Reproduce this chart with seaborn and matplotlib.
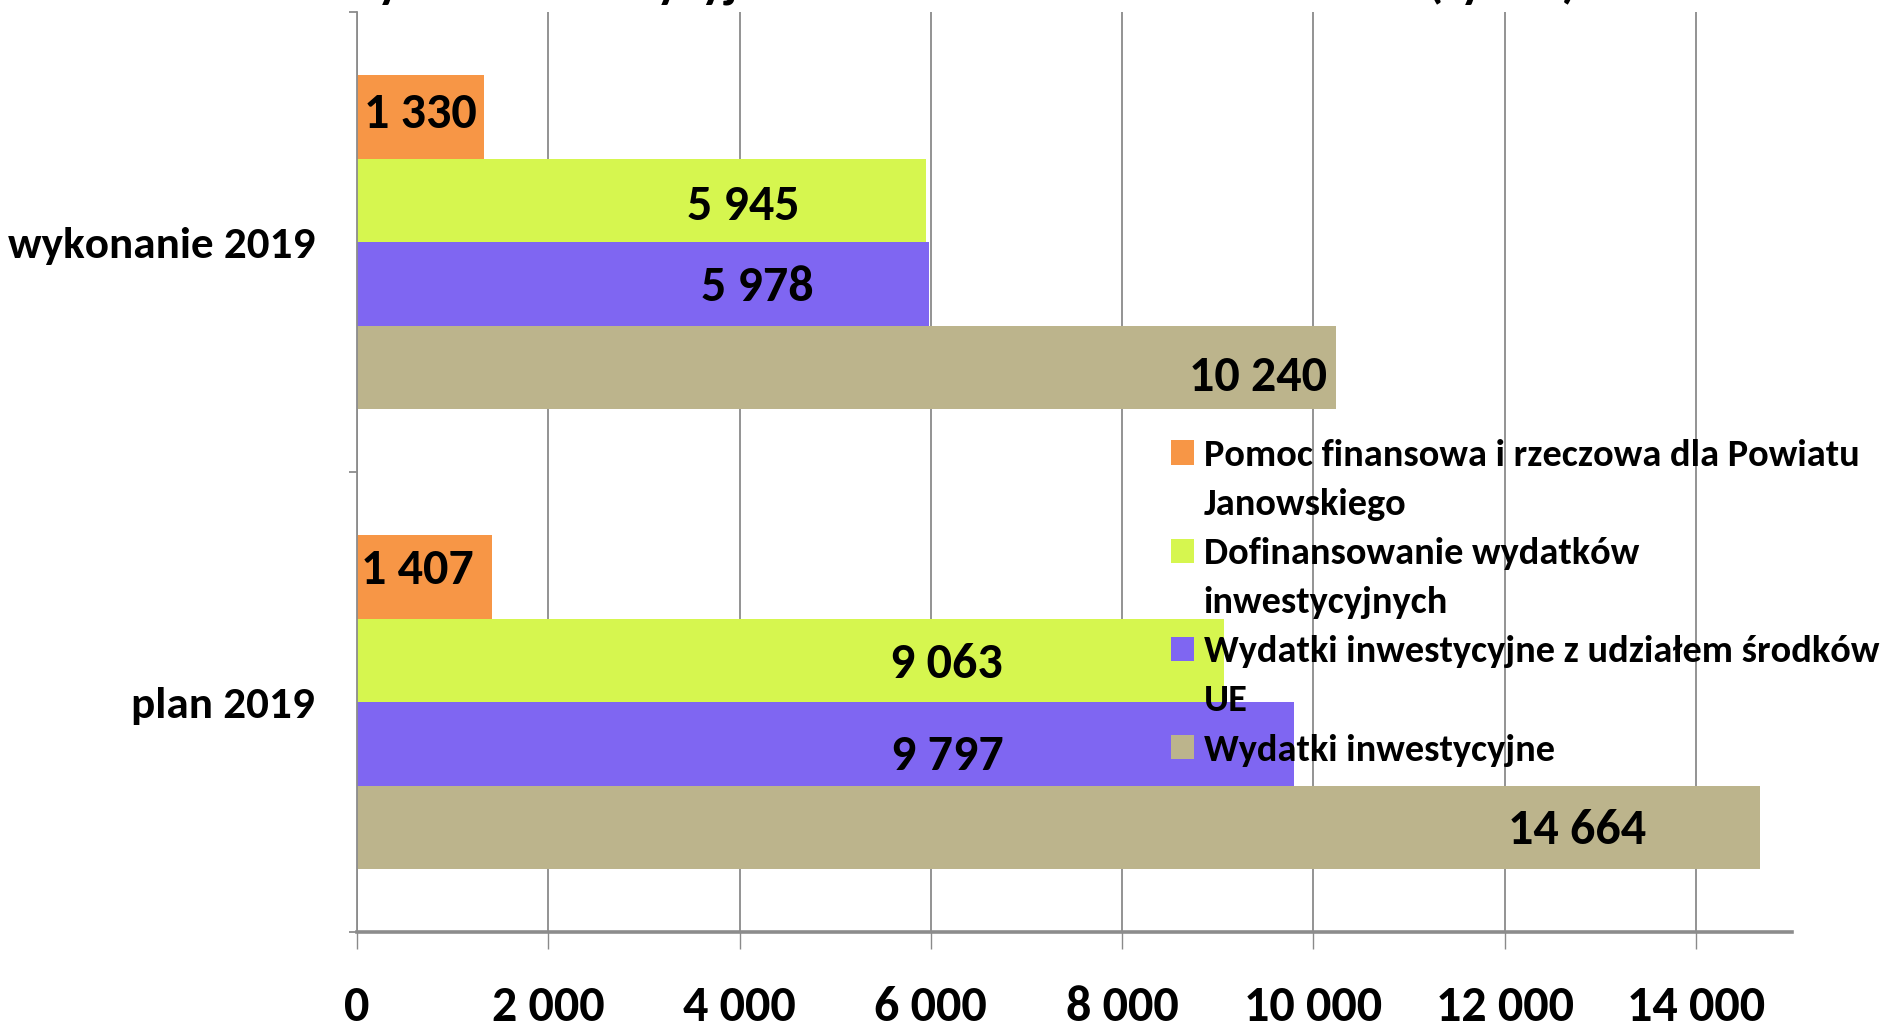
import numpy as np
import pandas as pd
import matplotlib
matplotlib.use("Agg")
import matplotlib.pyplot as plt
import seaborn as sns
from matplotlib.patches import Patch
from matplotlib.ticker import MultipleLocator, FixedLocator, FuncFormatter

# dane (tys. zł)
categories = ["wykonanie 2019", "plan 2019"]
series = ["Pomoc finansowa i rzeczowa dla Powiatu Janowskiego",
          "Dofinansowanie wydatków inwestycyjnych",
          "Wydatki inwestycyjne z udziałem środków UE",
          "Wydatki inwestycyjne"]
pomoc = [1330, 1407]
dofinansowanie = [5945, 9063]
wydatki_ue = [5978, 9797]
wydatki_inw = [10240, 14664]

legend_lines = [("Pomoc finansowa i rzeczowa dla Powiatu", "Janowskiego"),
                ("Dofinansowanie wydatków", "inwestycyjnych"),
                ("Wydatki inwestycyjne z udziałem środków", "UE"),
                ("Wydatki inwestycyjne", None)]

colors = ["#F79646", "#D6F64F", "#7F66F2", "#BCB48C"]
# gdzie stoi etykieta: ułamek długości słupka i przesunięcie w pionie (ułamek grubości)
label_frac = [[0.50, 0.45], [0.68, 0.68], [0.70, 0.63], [0.92, 0.87]]
label_dy = [[-0.04, -0.08], [0.06, 0.04], [0.04, 0.14], [0.12, 0.03]]

df = pd.DataFrame({
    "kategoria": categories * 4,
    "seria": np.repeat(series, 2),
    "wartosc": pomoc + dofinansowanie + wydatki_ue + wydatki_inw,
})

plt.rcParams["font.family"] = ["Carlito", "Open Sans Condensed", "DejaVu Sans"]
plt.rcParams["font.weight"] = "bold"

fig = plt.figure(figsize=(18.82, 10.31), dpi=100)
ax = fig.add_axes([0.1897, 0.096, 0.952 - 0.1897, 0.988 - 0.096])

sns.barplot(data=df, x="wartosc", y="kategoria", hue="seria",
            order=categories, hue_order=series, palette=colors,
            width=0.726, saturation=1, orient="h", legend=False,
            linewidth=0, ax=ax)

fmt = lambda v: f"{int(v):,}".replace(",", " ")

for cont, fracs, dys in zip(ax.containers, label_frac, label_dy):
    for bar, f, dy in zip(cont.patches, fracs, dys):
        w = bar.get_width()
        h = bar.get_height()
        yc = bar.get_y() + h / 2 + dy * h
        ax.text(w * f, yc, fmt(w), ha="center", va="center",
                fontsize=36, fontweight="bold", color="black")

ax.set_xlim(0, 15000)
ax.xaxis.set_major_locator(MultipleLocator(2000))
ax.xaxis.set_major_formatter(FuncFormatter(lambda v, p: fmt(v)))
ax.set_ylim(1.5, -0.5)
ax.yaxis.set_minor_locator(FixedLocator([-0.5, 0.5, 1.5]))

ax.grid(axis="x", color="#8A8A8A", linewidth=1.3)
ax.set_axisbelow(True)
for s in ["top", "right"]:
    ax.spines[s].set_visible(False)
ax.spines["bottom"].set_color("#8C8C8C")
ax.spines["bottom"].set_linewidth(2.6)
ax.spines["left"].set_color("#8C8C8C")
ax.spines["left"].set_linewidth(1.3)

ax.tick_params(axis="x", length=12, width=1, color="#8A8A8A", pad=26,
               labelsize=36)
ax.tick_params(axis="y", which="major", length=0, pad=30, labelsize=32.5)
ax.tick_params(axis="y", which="minor", length=6, width=1.3, color="#8C8C8C")
for t in ax.get_xticklabels() + ax.get_yticklabels():
    t.set_fontweight("bold")
ax.set_xlabel("")
ax.set_ylabel("")

# legenda - każda linia osobno, żeby kwadrat stał przy pierwszej linii
handles, labels = [], []
for c, (l1, l2) in zip(colors, legend_lines):
    handles.append(Patch(facecolor=c, edgecolor="none"))
    labels.append(l1)
    if l2:
        handles.append(Patch(facecolor="none", edgecolor="none"))
        labels.append(l2)
leg = ax.legend(handles, labels, loc="upper left",
                bbox_to_anchor=(1171 / 1882, 1 - 439 / 1031),
                bbox_transform=fig.transFigure, frameon=False,
                prop={"size": 27.6, "weight": "bold"},
                handlelength=0.6, handleheight=0.6, handletextpad=0.25,
                labelspacing=0.42, borderpad=0, borderaxespad=0)

# tytuł ucięty u góry jak w oryginale
fig.text(0.507, 1 + 3 / 1031,
         "Wydatki inwestycyjne – wartości zadań w 2019 roku (tys. zł)",
         ha="center", va="baseline", fontsize=36, fontweight="bold")

fig.savefig("out.png", dpi=100)
